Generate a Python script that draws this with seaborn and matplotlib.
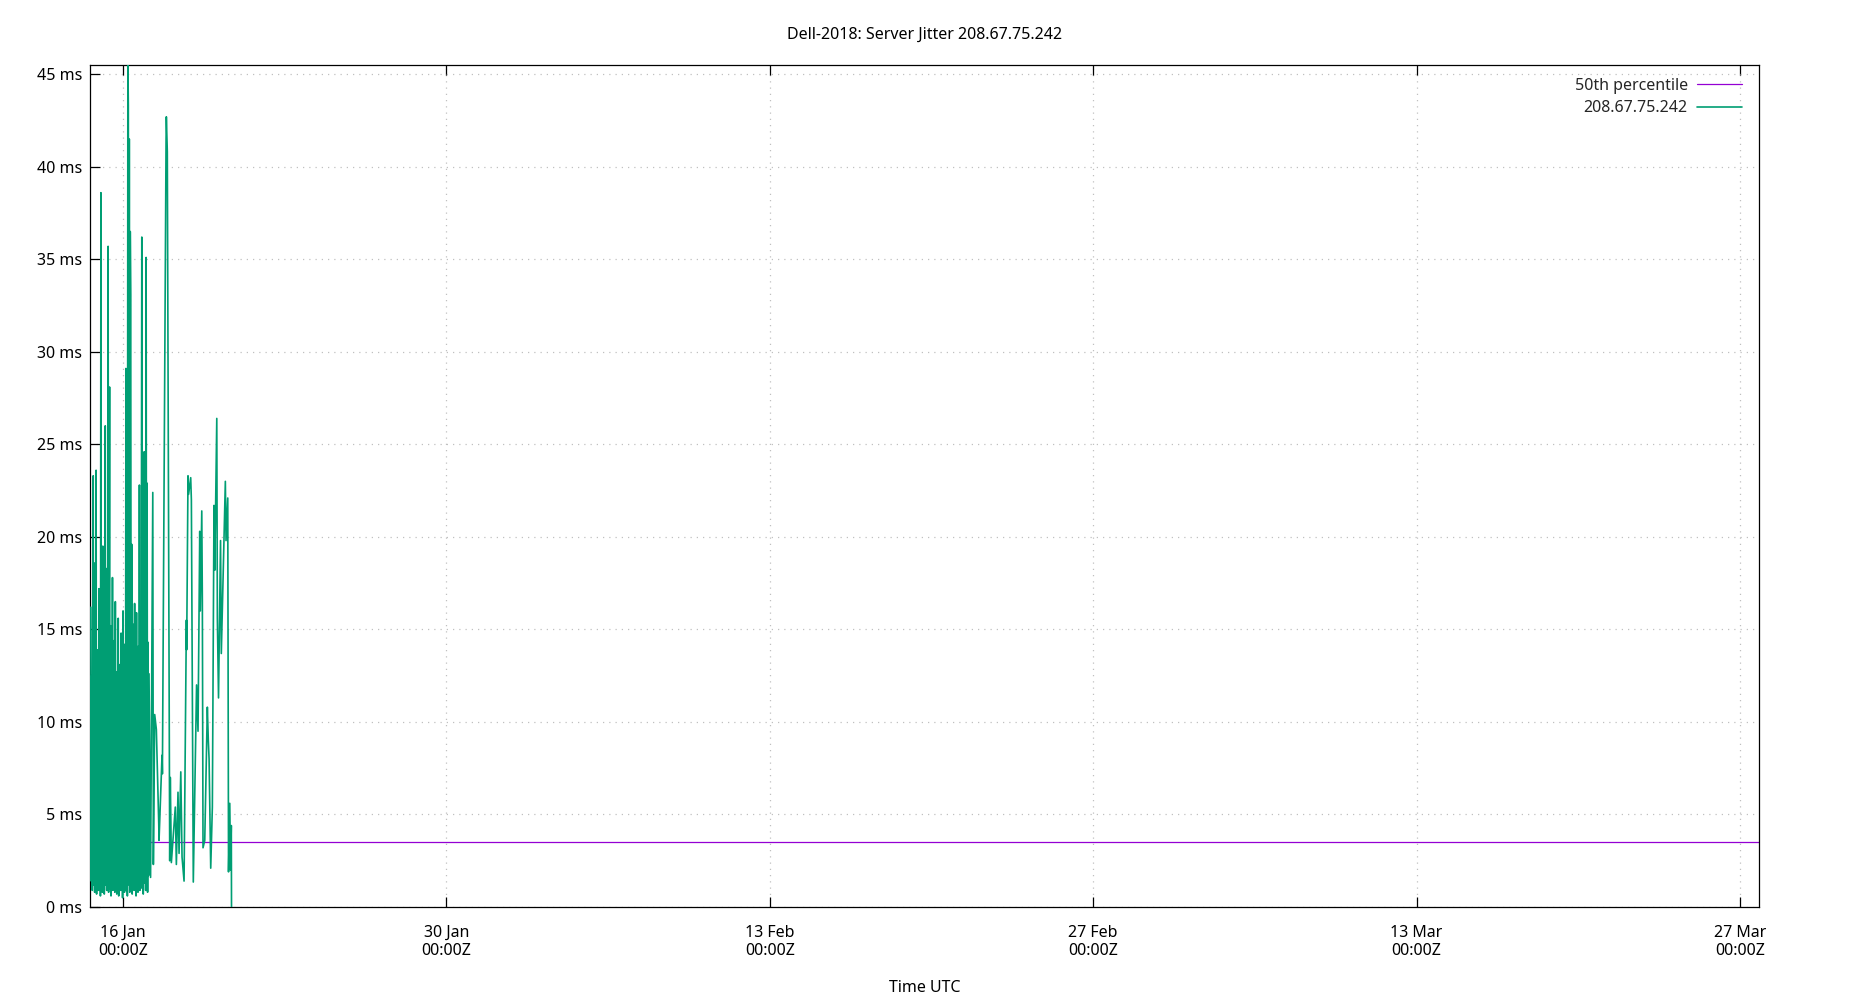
import numpy as np
import pandas as pd
import matplotlib
matplotlib.use("Agg")
import matplotlib.pyplot as plt
import matplotlib.dates as mdates
import seaborn as sns

## chart text
title = "Dell-2018: Server Jitter 208.67.75.242"
server_label = "208.67.75.242"
median_label = "50th percentile"
x_label = "Time UTC"

## data
# dense part: one sample every 30 min from 14 Jan 14:30Z, jitter in ms
dense_start = "2023-01-14 14:30"
dense_ms = [
    16.2, 1.4, 12.5, 0.9, 15.8, 23.3, 1.2, 10.4, 0.8, 18.6,
    1.5, 23.6, 0.7, 13.9, 2.1, 9.8, 0.9, 17.2, 1.3, 11.6,
    0.6, 38.6, 1.1, 14.7, 0.8, 19.5, 1.6, 12.2, 0.7, 16.9,
    26.0, 1.2, 10.8, 0.9, 18.3, 1.4, 35.7, 0.8, 13.5, 28.1,
    1.0, 15.2, 0.6, 11.3, 1.7, 17.8, 0.9, 9.6, 1.3, 14.4,
    0.8, 16.5, 1.5, 12.7, 0.7, 10.2, 1.1, 15.6, 0.6, 13.1,
    1.4, 9.3, 0.9, 14.8, 1.2, 11.5, 0.5, 16.0, 1.0, 12.4,
    0.8, 14.2, 1.3, 29.1, 0.9, 18.7, 0.6, 46.0, 43.3, 1.2,
    41.5, 0.8, 36.5, 33.1, 1.1, 19.6, 0.7, 15.3, 1.4, 12.8,
    0.9, 16.4, 1.2, 13.6, 0.6, 15.9, 1.5, 11.8, 0.8, 14.1,
    1.1, 22.8, 0.9, 13.2, 1.6, 16.3, 36.2, 1.0, 14.6, 0.7,
    23.4, 24.6, 1.3, 15.1, 0.9, 35.1, 1.2, 22.9, 0.8, 14.3,
    1.7, 12.6,
]
# sparse part: hours after 16 Jan 00:00Z, jitter in ms
sparse_hours = [
    28.6, 30.9, 31.5, 32.9, 34.6, 37.1, 37.4, 40.5, 40.9, 44.7,
    45.0, 46.0, 48.5, 49.1, 50.2, 54.3, 55.4, 57.1, 58.2, 60.0,
    61.3, 63.4, 65.8, 66.1, 67.5, 68.1, 70.3, 71.0, 73.0, 76.4,
    77.9, 79.7, 80.3, 81.8, 82.4, 83.1, 84.9, 87.6, 88.6, 89.4,
    91.1, 92.8, 94.5, 95.3, 97.4, 98.0, 99.2, 101.3, 102.1, 106.3,
    107.0, 108.8, 109.6, 110.9, 111.7, 112.5, 112.7,
]
sparse_ms = [
    1.6, 22.4, 2.3, 10.4, 9.6, 4.5, 3.6, 8.2, 7.2, 41.5,
    42.7, 40.8, 2.5, 7.0, 2.4, 5.4, 2.3, 6.2, 2.9, 7.3,
    2.7, 1.4, 15.5, 13.9, 23.3, 22.3, 23.2, 22.0, 1.35, 12.0,
    9.5, 20.3, 16.0, 21.4, 16.6, 3.2, 3.6, 10.8, 9.0, 8.0,
    2.1, 5.4, 21.7, 18.2, 26.4, 15.6, 11.3, 19.8, 13.7, 23.0,
    19.8, 22.1, 1.9, 5.6, 2.0, 4.4, 0.0,
]
median_ms = 3.5
x_start = "2023-01-14 13:40"
x_end = "2023-03-27 19:50"
tick_dates = ["2023-01-16", "2023-01-30", "2023-02-13", "2023-02-27", "2023-03-13", "2023-03-27"]
y_ticks = [0, 5, 10, 15, 20, 25, 30, 35, 40, 45]

ref = pd.Timestamp("2023-01-16 00:00")
dense_times = pd.date_range(dense_start, periods=len(dense_ms), freq="30min")
sparse_times = ref + pd.to_timedelta(sparse_hours, unit="h")
df = pd.DataFrame({
    "time": list(dense_times) + list(sparse_times),
    "jitter": dense_ms + sparse_ms,
})

sns.set_theme(style="white")
plt.rcParams["font.family"] = ["Noto Sans", "DejaVu Sans"]
plt.rcParams["font.size"] = 11.5

fig = plt.figure(figsize=(18.5, 10), dpi=100)
ax = fig.add_axes([90 / 1850, 1 - 907 / 1000, (1759 - 90) / 1850, (907 - 65) / 1000])

ax.axhline(median_ms, color="#9400d3", lw=0.9, label=median_label, zorder=2)
sns.lineplot(data=df, x="time", y="jitter", ax=ax, color="#009e73", lw=1.2,
             estimator=None, sort=False, label=server_label, zorder=3)

ax.set_xlim(pd.Timestamp(x_start), pd.Timestamp(x_end))
ax.set_ylim(0, 45.5)
ax.set_yticks(y_ticks)
ax.set_yticklabels([f"{v} ms" for v in y_ticks])
ax.set_xticks(pd.to_datetime(tick_dates))
ax.xaxis.set_major_formatter(mdates.DateFormatter("%d %b\n%H:%MZ"))

ax.grid(True, color="#c0c0c0", linestyle=(0, (1, 4)), linewidth=0.9)
for s in ax.spines.values():
    s.set_color("black")
    s.set_linewidth(0.9)
ax.tick_params(axis="x", direction="in", length=7, width=0.9, top=True, bottom=True,
               pad=13, labelsize=11.5, colors="black")
ax.tick_params(axis="y", direction="in", length=7, width=0.9, left=True, right=False,
               pad=5.5, labelsize=11.5, colors="black")

ax.set_xlabel(x_label, fontsize=11.5, labelpad=15, color="black")
ax.set_ylabel("")
fig.text(0.5, 1 - 35 / 1000, title, ha="center", va="center", fontsize=11.5, color="black")

ax.legend(loc="upper right", bbox_to_anchor=(1742 / 1850, 1 - 78 / 1000),
          bbox_transform=fig.transFigure, frameon=False, markerfirst=False,
          handlelength=2.8, handletextpad=0.6, labelspacing=0.4,
          borderpad=0, borderaxespad=0, fontsize=11.5)

fig.savefig("out.png", dpi=100)
